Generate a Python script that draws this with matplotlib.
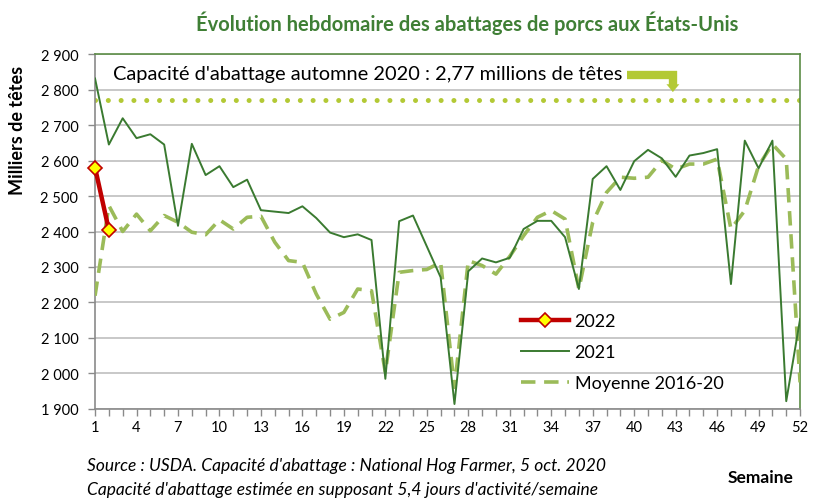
import matplotlib.pyplot as plt
import matplotlib.ticker as mticker
import numpy as np

plt.rcParams['font.family'] = ['Lato', 'DejaVu Sans']

weeks = np.arange(1, 53)

y2021 = [2831, 2645, 2719, 2663, 2674, 2645, 2416, 2647, 2559, 2584,
         2525, 2546, 2460, 2456, 2452, 2471, 2438, 2397, 2384, 2392,
         2376, 1985, 2429, 2445, 2358, 2271, 1914, 2288, 2324, 2313,
         2326, 2407, 2430, 2430, 2384, 2238, 2548, 2584, 2517, 2598,
         2630, 2606, 2554, 2614, 2621, 2632, 2252, 2656, 2578, 2656,
         1922, 2153]

moy_2016_20 = [2219, 2473, 2400, 2449, 2402, 2445, 2426, 2398, 2391, 2433,
               2407, 2440, 2443, 2370, 2318, 2313, 2224, 2153, 2172, 2238,
               2233, 2003, 2285, 2290, 2293, 2313, 1961, 2318, 2304, 2280,
               2330, 2388, 2440, 2459, 2435, 2238, 2426, 2510, 2553, 2550,
               2553, 2600, 2576, 2590, 2590, 2604, 2407, 2459, 2585, 2646,
               2604, 1975]

weeks_2022 = [1, 2]
y2022 = [2580, 2404]

capacite = 2770

fig = plt.figure(figsize=(8.13, 5.02), dpi=100)
ax = fig.add_axes([0.1169, 0.1833, 0.8672, 0.7071])

ax.set_xlim(1, 52)
ax.set_ylim(1900, 2900)
ax.set_yticks(np.arange(1900, 2901, 100))
ax.yaxis.set_major_formatter(mticker.FuncFormatter(lambda v, p: f"{int(v):,}".replace(",", " ")))
ax.set_xticks(np.arange(1, 53, 3))
ax.set_xticks(weeks, minor=True)
ax.grid(axis='y', color='#c8c8c8', linewidth=1.4, zorder=0)
ax.set_axisbelow(True)

for s in ['top', 'right']:
    ax.spines[s].set_color('#5b8c45')
    ax.spines[s].set_linewidth(1.2)
for s in ['left', 'bottom']:
    ax.spines[s].set_color('#8a8a8a')
    ax.spines[s].set_linewidth(1.2)

ax.tick_params(axis='both', which='both', colors='#8a8a8a', direction='out', length=5, width=1)
ax.tick_params(axis='both', labelcolor='black', labelsize=10.5)
ax.tick_params(axis='x', pad=3)
ax.tick_params(axis='y', pad=7)

# capacité
ax.plot([1, 52], [capacite, capacite], color='#b3c935', linewidth=3.6,
        linestyle=(0, (0.01, 2.55)), dash_capstyle='round', zorder=2)

ax.plot(weeks, moy_2016_20, color='#9bbb59', linewidth=2.6, linestyle=(0, (4, 2.4)),
        label='Moyenne 2016-20', zorder=3)
ax.plot(weeks, y2021, color='#3a7a30', linewidth=1.4, label='2021', zorder=4)
ax.plot(weeks_2022, y2022, color='#c00000', linewidth=3.2, marker='D', markersize=7,
        markerfacecolor='#ffff00', markeredgecolor='#c00000', markeredgewidth=1.2,
        label='2022', zorder=5, clip_on=False)

handles, labels = ax.get_legend_handles_labels()
order = [2, 1, 0]
ax.legend([handles[i] for i in order], [labels[i] for i in order],
          loc='upper left', bbox_to_anchor=(0.594, 0.29), frameon=False,
          fontsize=13, handlelength=2.67, labelspacing=0.82, handletextpad=0.3,
          borderaxespad=0)

ax.text(2.3, 2846, "Capacité d'abattage automne 2020 : 2,77 millions de têtes",
        fontsize=14.4, va='center', ha='left')

# flèche coudée
ax.plot([39.5, 43.1], [2842, 2842], color='#b3c935', linewidth=6, solid_capstyle='butt')
ax.plot([42.8, 42.8], [2852, 2812], color='#b3c935', linewidth=6, solid_capstyle='butt')
ax.annotate('', xy=(42.8, 2785), xytext=(42.8, 2815),
            arrowprops=dict(arrowstyle='-|>,head_width=0.45,head_length=0.55',
                            color='#b3c935', lw=0.1))

fig.text(0.575, 0.954, "Évolution hebdomaire des abattages de porcs aux États-Unis",
         fontsize=14.5, fontweight='bold', color='#3f7f35', ha='center', va='center')
fig.text(0.022, 0.741, "Milliers de têtes", rotation=90, fontsize=13,
         fontweight='bold', ha='center', va='center')
fig.text(0.935, 0.048, "Semaine", fontsize=12.5, fontweight='bold', ha='center', va='center')
fig.text(0.107, 0.072, "Source : USDA. Capacité d'abattage : National Hog Farmer, 5 oct. 2020",
         fontsize=12.5, style='italic', ha='left', va='center')
fig.text(0.107, 0.024, "Capacité d'abattage estimée en supposant 5,4 jours d'activité/semaine",
         fontsize=12.5, style='italic', ha='left', va='center')

fig.savefig('out.png', dpi=100)
